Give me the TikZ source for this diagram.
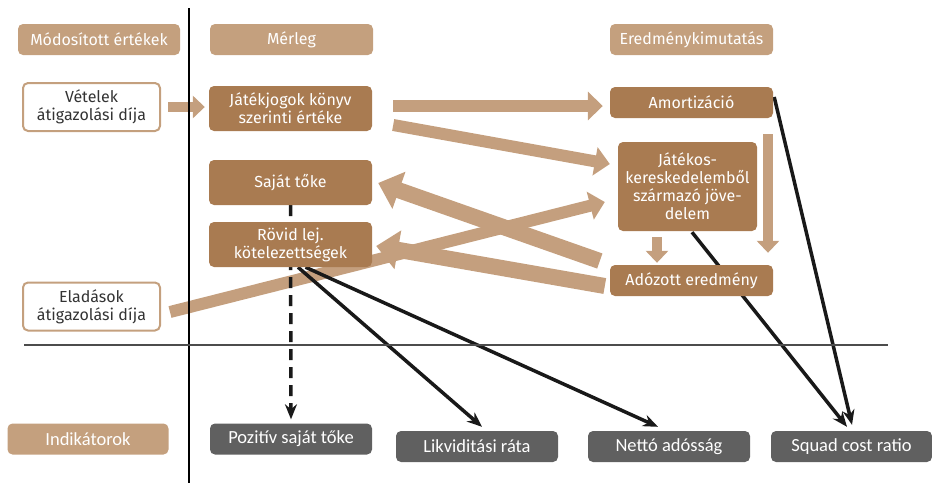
\documentclass[tikz,border=0pt]{standalone}
\usepackage{fontspec}
\setmainfont{Fira Sans}
\newfontfamily\narrowfont{Carlito}
\usetikzlibrary{arrows.meta, backgrounds}

\definecolor{lighttan}{HTML}{C4A07E}
\definecolor{darktan}{HTML}{A97B51}
\definecolor{arrowtan}{HTML}{C49F7E}
\definecolor{indgrey}{HTML}{606060}

\begin{document}
\begin{tikzpicture}[
    x=1pt, y=-1pt,
    every node/.style={font=\fontsize{16}{18}\selectfont, align=center, rounded corners=5pt, inner sep=0pt},
    head/.style={fill=lighttan, text=white, minimum width=163pt, minimum height=31pt},
    item/.style={fill=darktan, text=white, minimum width=163pt, minimum height=45pt},
    source/.style={draw=lighttan, line width=2pt, fill=white, text=black!80, minimum width=137pt, minimum height=48pt},
    indicator/.style={fill=indgrey, text=white, minimum width=162pt, minimum height=31pt, font=\narrowfont\fontsize{18.5}{20}\selectfont},
    flow/.style={arrowtan, line width=12pt, -{Triangle[width=28pt, length=15pt]}},
    bigflow/.style={arrowtan, line width=16pt, -{Triangle[width=38pt, length=22pt]}},
    smallflow/.style={arrowtan, line width=10pt, -{Triangle[width=22pt, length=12pt]}},
    link/.style={black!90, line width=3.5pt, -{Stealth[length=15pt, width=12pt]}}
]
    \useasboundingbox (0,0) rectangle (932,483);

    % column and row separators
    \draw[black, line width=1.2pt] (189,8) -- (189,483);
    \draw[black!70, line width=2pt] (24,345) -- (888,345);

    % headers
    \node[head, minimum width=162pt] (modhead) at (99,39.5) {Módosított értékek};
    \node[head] (merleghead) at (291.5,39.5) {Mérleg};
    \node[head] (eredhead) at (691.5,39.5) {Eredménykimutatás};

    % adjusted values
    \node[source] (vetel) at (91.5,107) {Vételek\\átigazolási díja};
    \node[source] (elad) at (91.5,306.5) {Eladások\\átigazolási díja};

    % balance sheet
    \node[item] (jatekjog) at (290.5,108.5) {Játékjogok könyv\\szerinti értéke};
    \node[item] (sajat) at (290.5,182.5) {Saját tőke};
    \node[item] (rovid) at (290.5,244.5) {Rövid lej.\\kötelezettségek};

    % income statement
    \node[item, minimum height=31pt] (amort) at (691.5,102.5) {Amortizáció};
    \node[item, minimum width=139pt, minimum height=89pt] (jatekos) at (687.5,186.5)
        {Játékos-\\kereskedelemből\\származó jöve-\\delem};
    \node[item, minimum height=31pt] (adozott) at (691.5,280.5) {Adózott eredmény};

    % indicators
    \node[head, minimum width=161pt, font=\narrowfont\fontsize{18.5}{20}\selectfont] (indik) at (88,439) {Indikátorok};
    \node[indicator] (pozitiv) at (291,439) {Pozitív saját tőke};
    \node[indicator] (likvid) at (477,446.5) {Likviditási ráta};
    \node[indicator] (netto) at (669,446.5) {Nettó adósság};
    \node[indicator, minimum width=161pt] (squad) at (851.5,446.5) {Squad cost ratio};

    \begin{scope}[on background layer]
        % flows between statements
        \draw[flow, line width=10pt, -{Triangle[width=22pt, length=12pt]}]
            ([xshift=7pt]vetel.east) -- ([xshift=-4pt]vetel.east -| jatekjog.west);
        \draw[flow] ([shift={(21,-2.5)}]jatekjog.east) -- ([shift={(-7,3.5)}]amort.west);
        \draw[flow] ([shift={(21,16.5)}]jatekjog.east) -- ([shift={(-8,-22.5)}]jatekos.west);
        \draw[flow] ([shift={(9,5.5)}]elad.east) -- ([shift={(-13,15.5)}]jatekos.west);
        \draw[bigflow] ([shift={(-5,5.5)}]adozott.west) -- ([shift={(4,1.5)}]rovid.east);
        \draw[bigflow] ([shift={(-10,-19.5)}]adozott.west) -- ([shift={(6,0.5)}]sajat.east);
        \draw[smallflow] ([shift={(-30.5,6)}]jatekos.south) -- ([shift={(-34.5,-2)}]adozott.north);
        \draw[smallflow] ([shift={(76.5,16)}]amort.south) -- ([shift={(76.5,-12)}]adozott.north);

        % links to indicators
        \draw[link, dash pattern=on 11pt off 7pt] (sajat.south) -- ([yshift=4pt]pozitiv.north);
        \draw[link] ([xshift=7.5pt]rovid.south) -- ([shift={(5,-4)}]likvid.north);
        \draw[link] ([xshift=15pt]rovid.south) -- ([shift={(-11,-4)}]netto.north);
        \draw[link] ([shift={(1,-5.5)}]amort.east) -- ([shift={(0.5,-6)}]squad.north);
        \draw[link] ([shift={(4.5,1)}]jatekos.south) -- ([shift={(-4.5,-4)}]squad.north);
    \end{scope}
\end{tikzpicture}
\end{document}
